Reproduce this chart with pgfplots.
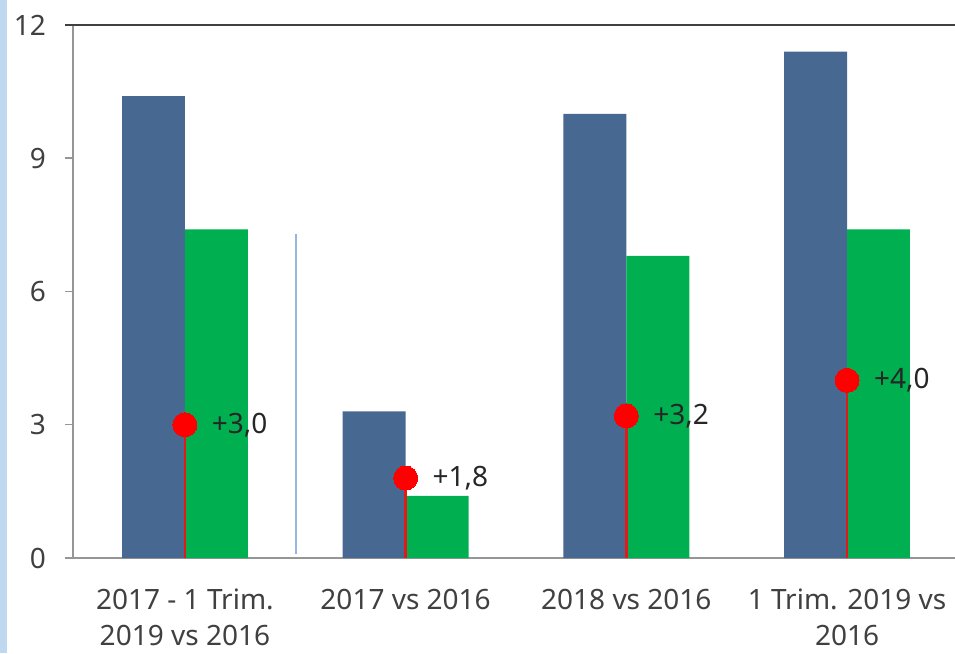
\documentclass[border=0pt]{standalone}
\usepackage{fontspec}
\setmainfont{Noto Sans}
\usepackage{pgfplots}
\pgfplotsset{compat=1.18}
\definecolor{barblue}{RGB}{71,104,145}
\definecolor{bargreen}{RGB}{0,176,80}
\definecolor{txt}{RGB}{64,64,64}
\definecolor{axgray}{RGB}{150,150,150}
\definecolor{topline}{RGB}{64,64,64}
\definecolor{sepblue}{RGB}{150,182,226}
\definecolor{stripblue}{RGB}{190,216,240}
\begin{document}
\begin{tikzpicture}
\path[use as bounding box] (0,0) rectangle (955pt,653pt);
\fill[stripblue] (0,0) rectangle (7pt,653pt);
\begin{axis}[
  name=ax,
  at={(73pt,95pt)}, anchor=south west,
  scale only axis, width=882pt, height=533pt,
  xmin=-0.507, xmax=3.489, ymin=0, ymax=12,
  axis x line*=bottom, axis y line*=left,
  axis line style={axgray, line width=1.5pt},
  ytick={0,3,6,9,12},
  xtick={0,1,2,3},
  xticklabels={{2017 - 1 Trim.\\2019 vs 2016},{2017 vs 2016},{2018 vs 2016},{1 Trim. 2019 vs\\2016}},
  major tick style={axgray, line width=1.5pt},
  major tick length=8pt, ytick align=outside, xtick align=inside,
  ticklabel style={font=\fontsize{28}{36}\selectfont, text=txt},
  yticklabel style={inner sep=0pt, xshift=-19pt},
  xticklabel style={inner sep=0pt, align=center, yshift=-31pt},
  /pgf/number format/assume math mode=true,
]
\addplot[ybar, bar width=0.285, bar shift=-0.1425, fill=barblue, draw=none] coordinates {(0,10.4)(1,3.3)(2,10.0)(3,11.4)};
\addplot[ybar, bar width=0.285, bar shift=0.1425, fill=bargreen, draw=none] coordinates {(0,7.4)(1,1.4)(2,6.8)(3,7.4)};
\addplot[sepblue, line width=1.5pt] coordinates {(0.503,0.1)(0.503,7.3)};
\addplot[ycomb, color={rgb,255:red,225;green,25;blue,25}, line width=2.5pt] coordinates {(0,3)(1,1.8)(2,3.2)(3,4)};
\addplot[red, only marks, mark=*, mark size=12pt, mark options={fill=red, draw=red, line width=0pt},
  nodes near coords, point meta=explicit symbolic,
  every node near coord/.style={anchor=west, xshift=27pt, inner sep=0pt, font=\fontsize{28}{34}\selectfont, text=black!85}]
  coordinates {(0,3)[+3,0] (1,1.8)[+1,8] (2,3.2)[+3,2] (3,4)[+4,0]};
\end{axis}
\draw[topline, line width=1.5pt] ([xshift=-8pt]ax.north west) -- (ax.north east);
\end{tikzpicture}
\end{document}
